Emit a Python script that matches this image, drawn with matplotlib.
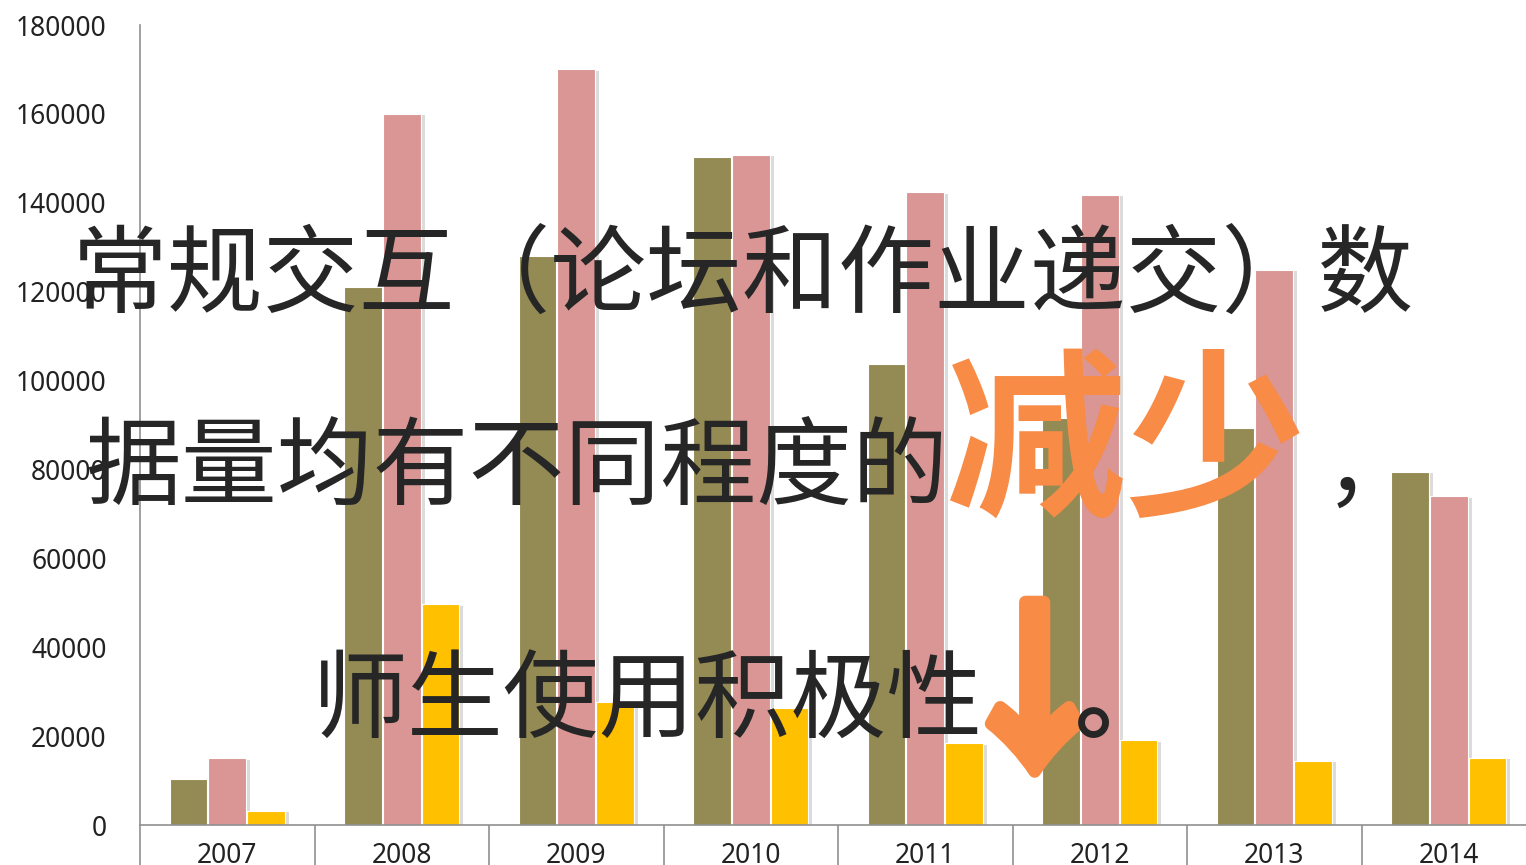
import matplotlib
matplotlib.use("Agg")
import matplotlib.pyplot as plt
import matplotlib.patheffects as pe
import numpy as np

plt.rcParams["font.family"] = ["Noto Sans CJK SC", "DejaVu Sans"]

years = ["2007", "2008", "2009", "2010", "2011", "2012", "2013", "2014"]
series_a = [10400, 121000, 128000, 150300, 103700, 91600, 89300, 79500]
series_b = [15000, 160000, 170000, 150800, 142400, 141800, 124900, 74000]
series_c = [3200, 49700, 27700, 26300, 18400, 19100, 14400, 15100]
y_ticks = [0, 20000, 40000, 60000, 80000, 100000, 120000, 140000, 160000, 180000]

W, H = 1526, 865
fig = plt.figure(figsize=(W / 100, H / 100), dpi=100)
ax = fig.add_axes([140 / W, 40 / H, 1396 / W, 800 / H])

centers = np.arange(len(years)) + 0.5
bw = 0.215
shadow = [pe.SimplePatchShadow(offset=(3, -1), shadow_rgbFace="#9a9a9a", alpha=0.35), pe.Normal()]
for off, vals, col in [(-0.222, series_a, "#948A54"),
                       (0.0, series_b, "#D99694"),
                       (0.222, series_c, "#FFC000")]:
    bars = ax.bar(centers + off, vals, width=bw, color=col, edgecolor="white",
                  linewidth=0.8, zorder=2)
    for b in bars:
        b.set_path_effects(shadow)

ax.set_xlim(0, len(years))
ax.set_ylim(0, 180000)
ax.set_yticks(y_ticks)
ax.set_yticklabels([str(v) for v in y_ticks], family="Noto Sans", fontsize=19)
ax.tick_params(axis="y", length=0, pad=24, colors="#222222")

ax.set_xticks(np.arange(len(years) + 1))
ax.set_xticklabels([])
ax.set_xticks(centers, minor=True)
ax.set_xticklabels(years, minor=True, family="Noto Sans", fontsize=19, color="#222222")
ax.tick_params(axis="x", which="major", length=34, color="#909090", width=1.2)
ax.tick_params(axis="x", which="minor", length=0, pad=12)

for s in ["top", "right"]:
    ax.spines[s].set_visible(False)
for s in ["left", "bottom"]:
    ax.spines[s].set_color("#909090")
    ax.spines[s].set_linewidth(1.2)


def px(x, y):
    return x / W, 1 - y / H


dark = "#262626"
orange = "#F88B45"
fig.text(*px(72, 305), "常规交互（论坛和作业递交）数", fontsize=69, color=dark,
         va="baseline", ha="left", zorder=5)
fig.text(*px(85, 498), "据量均有不同程度的", fontsize=69, color=dark,
         va="baseline", ha="left", zorder=5)
fig.text(*px(945, 502), "减少", fontsize=130, color=orange, fontweight="bold",
         va="baseline", ha="left", zorder=5)
fig.text(*px(1325, 498), "，", fontsize=66, color=dark,
         va="baseline", ha="left", zorder=5)
fig.text(*px(312, 731), "师生使用积极性", fontsize=69, color=dark,
         va="baseline", ha="left", zorder=5)
fig.text(*px(943, 756), "↓", fontsize=132, color=orange, fontweight="bold",
         va="baseline", ha="left", zorder=5,
         path_effects=[pe.withStroke(linewidth=9, foreground=orange, capstyle="round", joinstyle="round")])
fig.text(*px(1075, 731), "。", fontsize=69, color=dark, fontweight="bold",
         va="baseline", ha="left", zorder=5)

fig.savefig("out.png", dpi=100)
